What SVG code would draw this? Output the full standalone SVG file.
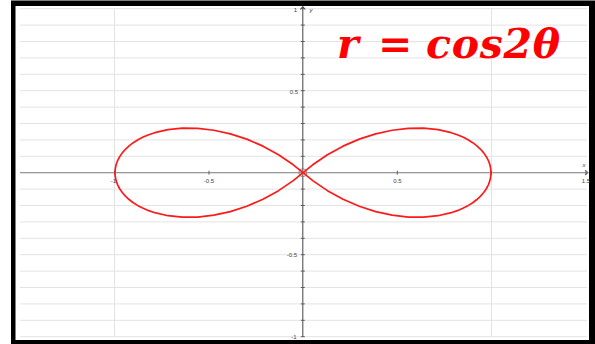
<svg xmlns="http://www.w3.org/2000/svg" width="595" height="344" viewBox="0 0 595 344">
<style>
.grid{stroke:#e3e3e3;stroke-width:1;fill:none}
.axis{stroke:#7a7a7a;stroke-width:1.1;fill:none}
.yaxis{stroke:#555;stroke-width:1.1;fill:none}
.tick{stroke:#555;stroke-width:0.9;fill:none}
.lbl{font-family:"Liberation Sans",Arial,sans-serif;font-size:6px;fill:#444}
.curve{stroke:#ff1a1a;stroke-width:1.7;fill:none;stroke-linejoin:round}
.title{font-family:"DejaVu Serif","Liberation Serif",serif;font-weight:bold;font-style:italic;font-size:41px;fill:#ff0000}
</style>
<rect x="0" y="0" width="595" height="344" fill="#ffffff"/>
<rect x="11" y="0.5" width="584" height="343.5" fill="#000000"/>
<rect x="15.5" y="6" width="573.5" height="334" fill="#ffffff"/>
<g id="grid">
<path class="grid" d="M20 8.7H587M20 25.1H587M20 41.5H587M20 57.9H587M20 74.3H587M20 90.7H587M20 107.1H587M20 123.5H587M20 139.9H587M20 156.3H587M20 189.1H587M20 205.5H587M20 221.9H587M20 238.3H587M20 254.7H587M20 271.1H587M20 287.5H587M20 303.9H587M20 320.3H587M20 336.7H587"/>
<path class="grid" d="M114.5 8V337M491.5 8V337"/>
</g>
<g id="axes">
<path class="axis" d="M20 172.7H588M585 170.2L588 172.7L585 175.2"/>
<path class="yaxis" d="M302.8 6.5V337M300.3 9.5L302.8 6.5L305.3 9.5"/>
<path class="tick" d="M300.8 8.7H304.8M300.8 25.1H304.8M300.8 41.5H304.8M300.8 57.9H304.8M300.8 74.3H304.8M300.8 90.7H304.8M300.8 107.1H304.8M300.8 123.5H304.8M300.8 139.9H304.8M300.8 156.3H304.8M300.8 189.1H304.8M300.8 205.5H304.8M300.8 221.9H304.8M300.8 238.3H304.8M300.8 254.7H304.8M300.8 271.1H304.8M300.8 287.5H304.8M300.8 303.9H304.8M300.8 320.3H304.8M300.8 336.7H304.8"/>
<path class="tick" d="M114.5 170.7V174.7M209 170.7V174.7M397.3 170.7V174.7M491.5 170.7V174.7M586 170.7V174.7"/>
<text class="lbl" x="297" y="12" text-anchor="end">1</text>
<text class="lbl" x="298" y="93.7" text-anchor="end">0.5</text>
<text class="lbl" x="297" y="257.3" text-anchor="end">-0.5</text>
<text class="lbl" x="296.5" y="339" text-anchor="end">-1</text>
<text class="lbl" x="309.5" y="12" font-style="italic">y</text>
<text class="lbl" x="584" y="167" text-anchor="middle" font-style="italic">x</text>
<text class="lbl" x="113.5" y="183" text-anchor="middle">-1</text>
<text class="lbl" x="209" y="183" text-anchor="middle">-0.5</text>
<text class="lbl" x="397.5" y="183" text-anchor="middle">0.5</text>
<text class="lbl" x="586" y="183" text-anchor="middle">1.5</text>
<circle cx="302.8" cy="172.7" r="4" fill="none" stroke="#777" stroke-width="0.8"/>
</g>
<g id="curve">
<path class="curve" d="M303 172.7L312.73 164.79L327.44 154.74L343.03 146.15L359.23 139.15L375.7 133.82L392.14 130.22L408.23 128.36L423.64 128.21L438.07 129.69L451.23 132.7L457.25 134.73L462.86 137.09L468.02 139.75L472.71 142.69L476.91 145.88L480.59 149.29L483.73 152.89L486.33 156.65L488.37 160.55L489.83 164.54L490.71 168.6L491 172.7L490.71 176.8L489.83 180.86L488.37 184.85L486.33 188.75L483.73 192.51L480.59 196.11L476.91 199.52L472.71 202.71L468.02 205.65L462.86 208.31L457.25 210.67L451.23 212.7L438.07 215.71L423.64 217.19L408.23 217.04L392.14 215.18L375.7 211.58L359.23 206.25L343.03 199.25L327.44 190.66L312.73 180.61Z"/>
<path class="curve" d="M303 172.7L293.27 164.79L278.56 154.74L262.97 146.15L246.77 139.15L230.3 133.82L213.86 130.22L197.77 128.36L182.36 128.21L167.93 129.69L154.77 132.7L148.75 134.73L143.14 137.09L137.98 139.75L133.29 142.69L129.09 145.88L125.41 149.29L122.27 152.89L119.67 156.65L117.63 160.55L116.17 164.54L115.29 168.6L115 172.7L115.29 176.8L116.17 180.86L117.63 184.85L119.67 188.75L122.27 192.51L125.41 196.11L129.09 199.52L133.29 202.71L137.98 205.65L143.14 208.31L148.75 210.67L154.77 212.7L167.93 215.71L182.36 217.19L197.77 217.04L213.86 215.18L230.3 211.58L246.77 206.25L262.97 199.25L278.56 190.66L293.27 180.61Z"/>
</g>
<g id="title">
<text class="title" y="57.7"><tspan x="337">r</tspan> <tspan x="378">=</tspan> <tspan x="426" textLength="134" lengthAdjust="spacing">cos2θ</tspan></text>
</g>
</svg>
